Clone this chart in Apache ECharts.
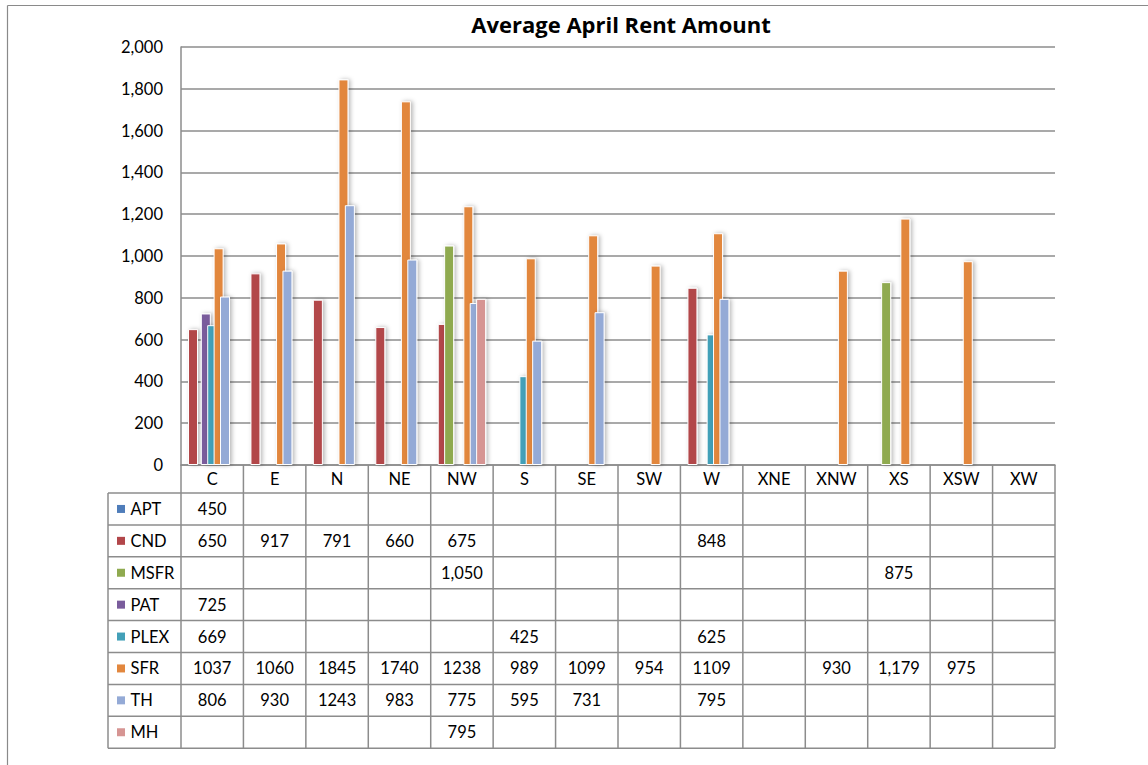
<!DOCTYPE html>
<html><head><meta charset="utf-8">
<script src="https://cdn.jsdelivr.net/npm/echarts/dist/echarts.min.js"></script>
<style>html,body{margin:0;padding:0;background:#fff}#c{width:1148px;height:765px}</style>
</head><body><div id="c"></div><script>
// ---- data ----
const categories = ['C','E','N','NE','NW','S','SE','SW','W','XNE','XNW','XS','XSW','XW'];
const yTicks = [0,200,400,600,800,1000,1200,1400,1600,1800,2000];
const APT  = [450,null,null,null,null,null,null,null,null,null,null,null,null,null];
const CND  = [650,917,791,660,675,null,null,null,848,null,null,null,null,null];
const MSFR = [null,null,null,null,1050,null,null,null,null,null,null,875,null,null];
const PAT  = [725,null,null,null,null,null,null,null,null,null,null,null,null,null];
const PLEX = [669,null,null,null,null,425,null,null,625,null,null,null,null,null];
const SFR  = [1037,1060,1845,1740,1238,989,1099,954,1109,null,930,1179,975,null];
const TH   = [806,930,1243,983,775,595,731,null,795,null,null,null,null,null];
const MH   = [null,null,null,null,795,null,null,null,null,null,null,null,null,null];
const seriesNames = ['APT','CND','MSFR','PAT','PLEX','SFR','TH','MH'];
const seriesData  = [APT,CND,MSFR,PAT,PLEX,SFR,TH,MH];
// APT appears only in the data table of the original (no bar drawn)
const plotted = ['CND','MSFR','PAT','PLEX','SFR','TH','MH'];
// cells shown with thousands separator in the table
const commaCells = [['MSFR','NW'],['SFR','XS']];
const title = 'Average April Rent Amount';

// ---- style ----
const colors = {APT:'#4F7DBA',CND:'#B2464A',MSFR:'#8FAA4F',PAT:'#7A5C9C',PLEX:'#43A0B8',SFR:'#E2873E',TH:'#94AAD6',MH:'#D69593'};
const FONT = 'Lato, "Open Sans", sans-serif';
const FS = 16.5;
const G = {left:181, right:1055, top:47, bottom:465};
const lineColor = '#8c8c8c';
const tableLeft = 108, headerBottom = 493, rowH = 31.9;

const chart = echarts.init(document.getElementById('c'), null, {renderer:'svg'});
const colW = (G.right - G.left) / categories.length;

function fmt(v){ return v.toString().replace(/\B(?=(\d{3})+(?!\d))/g, ','); }

const graphics = [];
// outer frame
graphics.push({type:'line', shape:{x1:7.5,y1:5.5,x2:1148,y2:5.5}, style:{stroke:'#8a8a8a', lineWidth:1.2}});
graphics.push({type:'line', shape:{x1:7.5,y1:5.5,x2:7.5,y2:765}, style:{stroke:'#8a8a8a', lineWidth:1.2}});
// header labels
categories.forEach((c,i)=>{
  graphics.push({type:'text', x:G.left+colW*(i+0.5), y:(G.bottom+headerBottom)/2,
    style:{text:c, fill:'#000', font:FS+'px '+FONT, textAlign:'center', textVerticalAlign:'middle'}});
});
const tableBottom = headerBottom + rowH*seriesNames.length;
for (let r=0; r<=seriesNames.length; r++){
  const y = headerBottom + r*rowH;
  graphics.push({type:'line', shape:{x1:tableLeft,y1:y,x2:G.right,y2:y}, style:{stroke:lineColor, lineWidth:1.5}});
}
graphics.push({type:'line', shape:{x1:tableLeft,y1:headerBottom,x2:tableLeft,y2:tableBottom}, style:{stroke:lineColor, lineWidth:1.5}});
for (let i=0; i<=categories.length; i++){
  const x = G.left + i*colW;
  graphics.push({type:'line', shape:{x1:x,y1:G.bottom,x2:x,y2:tableBottom}, style:{stroke:lineColor, lineWidth:1.5}});
}
seriesNames.forEach((name,r)=>{
  const yc = headerBottom + rowH*(r+0.5);
  graphics.push({type:'rect', shape:{x:117,y:yc-4,width:8,height:8}, style:{fill:colors[name]}});
  graphics.push({type:'text', x:130.5, y:yc, style:{text:name, fill:'#000', font:FS+'px '+FONT, textAlign:'left', textVerticalAlign:'middle'}});
  seriesData[r].forEach((v,i)=>{
    if (v==null) return;
    const comma = commaCells.some(([s,c])=>s===name && c===categories[i]);
    graphics.push({type:'text', x:G.left+colW*(i+0.5), y:yc,
      style:{text: comma ? fmt(v) : String(v), fill:'#000', font:FS+'px '+FONT, textAlign:'center', textVerticalAlign:'middle'}});
  });
});

const series = plotted.map(name=>({
  name, type:'bar', data: seriesData[seriesNames.indexOf(name)],
  barWidth:10, barGap:'-36%', barCategoryGap:'20%',
  itemStyle:{color:colors[name], borderColor:'#ffffff', borderWidth:1,
    shadowColor:'rgba(0,0,0,0.28)', shadowBlur:4, shadowOffsetX:2, shadowOffsetY:0},
  emphasis:{disabled:true}, animation:false
}));

chart.setOption({
  animation:false,
  title:{text:title, left:616, top:8, textAlign:'center',
    textStyle:{fontFamily:'"Open Sans", Lato, sans-serif', fontSize:22, fontWeight:'bold', color:'#000'}},
  grid:{left:G.left, right:1148-G.right, top:G.top, bottom:765-G.bottom, containLabel:false},
  xAxis:{type:'category', data:categories, axisLabel:{show:false}, axisTick:{show:false},
    axisLine:{show:true, lineStyle:{color:lineColor, width:1.5}}},
  yAxis:{type:'value', min:yTicks[0], max:yTicks[yTicks.length-1], interval:yTicks[1]-yTicks[0],
    axisLabel:{formatter:v=>fmt(v), fontFamily:FONT, fontSize:FS, color:'#000', margin:18},
    axisTick:{show:false},
    axisLine:{show:true, lineStyle:{color:lineColor, width:1.5}},
    splitLine:{show:true, lineStyle:{color:lineColor, width:1.5}}},
  series,
  graphic:graphics
});
</script></body></html>
